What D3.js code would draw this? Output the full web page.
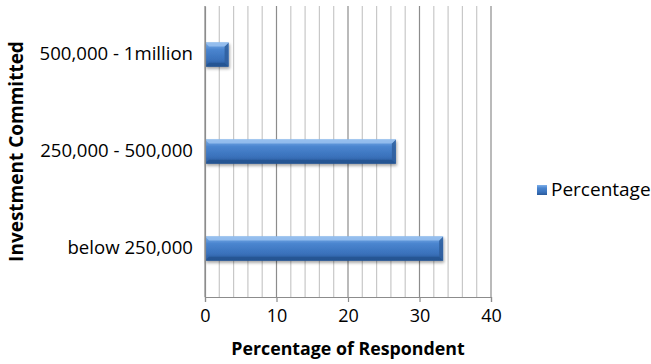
<!DOCTYPE html>
<html>
<head>
<meta charset="utf-8">
<script src="https://cdn.jsdelivr.net/npm/d3@7"></script>
<style>
  body { margin: 0; background: #fff; }
  svg { display: block; font-family: "Open Sans", sans-serif; }
</style>
</head>
<body>
<div id="wrapper"></div>
<script>
const categories = ["500,000 - 1million", "250,000 - 500,000", "below 250,000"]
const percentages = [3.3, 26.7, 33.3]
const xTicks = [0, 10, 20, 30, 40]
const minorTicks = d3.range(0, 41, 2)
const seriesName = "Percentage"

function drawBarChart() {
  const dimensions = {
    width: 651,
    height: 364,
    margin: { top: 6, right: 160, bottom: 67, left: 205 },
  }
  dimensions.boundedWidth = dimensions.width - dimensions.margin.left - dimensions.margin.right
  dimensions.boundedHeight = dimensions.height - dimensions.margin.top - dimensions.margin.bottom

  const wrapper = d3.select("#wrapper")
    .append("svg")
    .attr("width", dimensions.width)
    .attr("height", dimensions.height)

  const defs = wrapper.append("defs")
  const grad = defs.append("linearGradient")
    .attr("id", "barGrad")
    .attr("x1", 0).attr("y1", 0).attr("x2", 0).attr("y2", 1)
  grad.append("stop").attr("offset", "0%").attr("stop-color", "#7fb0ea")
  grad.append("stop").attr("offset", "30%").attr("stop-color", "#4a85cf")
  grad.append("stop").attr("offset", "70%").attr("stop-color", "#3a72bc")
  grad.append("stop").attr("offset", "100%").attr("stop-color", "#2a5a9a")

  const shadow = defs.append("filter").attr("id", "shadow")
    .attr("x", "-10%").attr("y", "-20%").attr("width", "130%").attr("height", "160%")
  shadow.append("feDropShadow")
    .attr("dx", 1).attr("dy", 2).attr("stdDeviation", 1.5)
    .attr("flood-color", "#000").attr("flood-opacity", 0.35)

  const bounds = wrapper.append("g")
    .attr("transform", `translate(${dimensions.margin.left},${dimensions.margin.top})`)

  const xScale = d3.scaleLinear()
    .domain([0, 40])
    .range([0, 286])

  const yScale = d3.scaleBand()
    .domain(categories)
    .range([0, dimensions.boundedHeight])
    .paddingInner(0.75)
    .paddingOuter(0.375)

  // gridlines
  bounds.append("g")
    .selectAll("line")
    .data(minorTicks)
    .join("line")
    .attr("x1", d => xScale(d))
    .attr("x2", d => xScale(d))
    .attr("y1", 0)
    .attr("y2", dimensions.boundedHeight)
    .attr("stroke", d => d % 10 === 0 ? "#8c8c8c" : "#c8c8c8")
    .attr("stroke-width", 1.2)

  // bars
  const bars = bounds.append("g")
    .selectAll("g")
    .data(categories)
    .join("g")
    .attr("filter", "url(#shadow)")

  bars.append("rect")
    .attr("x", xScale(0))
    .attr("y", d => yScale(d))
    .attr("width", (d, i) => xScale(percentages[i]) - xScale(0))
    .attr("height", yScale.bandwidth())
    .attr("fill", "url(#barGrad)")

  // bevel edges
  const bev = 4
  bars.append("path")
    .attr("d", (d, i) => {
      const x1 = xScale(percentages[i])
      const y0 = yScale(d), y1 = y0 + yScale.bandwidth()
      return `M${x1},${y0} L${x1 - bev},${y0 + bev} L${x1 - bev},${y1 - bev} L${x1},${y1} Z`
    })
    .attr("fill", "#2f5f9e")
    .attr("opacity", 0.85)

  bars.append("path")
    .attr("d", (d, i) => {
      const x0 = xScale(0), x1 = xScale(percentages[i])
      const y0 = yScale(d)
      return `M${x0},${y0} L${x1},${y0} L${x1 - bev},${y0 + bev} L${x0 + bev},${y0 + bev} Z`
    })
    .attr("fill", "#9cc3f0")
    .attr("opacity", 0.8)

  bars.append("path")
    .attr("d", (d, i) => {
      const x0 = xScale(0), x1 = xScale(percentages[i])
      const y1 = yScale(d) + yScale.bandwidth()
      return `M${x0},${y1} L${x1},${y1} L${x1 - bev},${y1 - bev} L${x0 + bev},${y1 - bev} Z`
    })
    .attr("fill", "#23528f")
    .attr("opacity", 0.8)

  // x axis
  const xAxisGenerator = d3.axisBottom()
    .scale(xScale)
    .tickValues(xTicks)
    .tickSize(5)
    .tickPadding(7)

  const xAxis = bounds.append("g")
    .call(xAxisGenerator)
    .attr("transform", `translate(0,${dimensions.boundedHeight})`)
  xAxis.select(".domain").attr("stroke", "#8c8c8c").attr("stroke-width", 1.2)
  xAxis.selectAll(".tick line").attr("stroke", "#8c8c8c").attr("stroke-width", 1.2)
  xAxis.selectAll("text")
    .style("font-size", "18px")
    .style("font-family", "'Open Sans', sans-serif")
    .attr("fill", "#000")

  // y axis
  const yAxisGenerator = d3.axisLeft()
    .scale(yScale)
    .tickSize(0)
    .tickPadding(12)

  const yAxis = bounds.append("g").call(yAxisGenerator)
  yAxis.select(".domain").attr("stroke", "#8c8c8c").attr("stroke-width", 1.2)
  yAxis.selectAll("text")
    .style("font-size", "18.6px")
    .style("font-family", "'Open Sans', sans-serif")
    .attr("fill", "#000")

  // axis titles
  wrapper.append("text")
    .attr("x", dimensions.margin.left + xScale(20))
    .attr("y", 355)
    .style("text-anchor", "middle")
    .style("font-size", "17.8px")
    .style("font-weight", "bold")
    .text("Percentage of Respondent")

  wrapper.append("text")
    .attr("transform", "translate(23,151.5) rotate(-90)")
    .style("text-anchor", "middle")
    .style("font-size", "19px")
    .style("font-weight", "bold")
    .text("Investment Committed")

  // legend
  const legend = wrapper.append("g")
    .attr("transform", "translate(537,185)")
  legend.append("rect")
    .attr("width", 10).attr("height", 10)
    .attr("fill", "url(#barGrad)")
  legend.append("text")
    .attr("x", 14)
    .attr("y", 11)
    .style("font-size", "19px")
    .text(seriesName)
}
drawBarChart()
</script>
</body>
</html>
